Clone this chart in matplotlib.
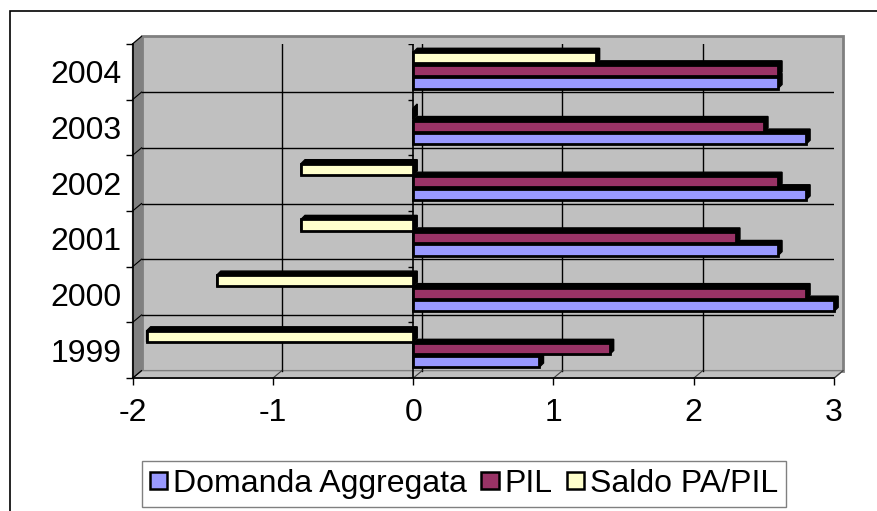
import numpy as np
import matplotlib.pyplot as plt
from matplotlib.patches import Polygon, Rectangle, Patch

plt.rcParams['font.family'] = ['Liberation Sans', 'DejaVu Sans']

# dati
anni = ['1999', '2000', '2001', '2002', '2003', '2004']
domanda = [0.9, 3.0, 2.6, 2.8, 2.8, 2.6]
pil = [1.4, 2.8, 2.3, 2.6, 2.5, 2.6]
saldo = [-1.9, -1.4, -0.8, -0.8, 0.0, 1.3]
serie = ['Domanda Aggregata', 'PIL', 'Saldo PA/PIL']
colori = ['#9999FF', '#993366', '#FFFFCC']
xticks = [-2, -1, 0, 1, 2, 3]

fig = plt.figure(figsize=(8.78, 5.11), dpi=100)
ax = fig.add_axes([0.151, 0.260, 0.799, 0.654])
ax.set_xlim(-2, 3)
ax.set_ylim(-0.5, 5.5)
ax.set_facecolor('none')

# profondita' dell'effetto 3D (unita' dati)
dx, dy = 0.064, 0.135      # parete di fondo
bdx, bdy = 0.029, 0.072    # barre
pos = np.arange(len(anni))
bordi = np.arange(-0.5, len(anni), 1)

# parete di fondo, parete laterale e pavimento
ax.add_patch(Rectangle((-2 + dx, -0.5 + dy), 5, 6, fc='#C0C0C0', ec='#808080',
                       lw=2, zorder=0, clip_on=False))
ax.add_patch(Polygon([(-2, -0.5), (-2, 5.5), (-2 + dx, 5.5 + dy), (-2 + dx, -0.5 + dy)],
                     closed=True, fc='#808080', ec='#808080', lw=1, zorder=0.5, clip_on=False))
ax.add_patch(Polygon([(-2, -0.5), (3, -0.5), (3 + dx, -0.5 + dy), (-2 + dx, -0.5 + dy)],
                     closed=True, fc='#C0C0C0', ec='#808080', lw=1, zorder=0.5, clip_on=False))

# griglia sulla parete di fondo
for x in xticks[1:-1]:
    ax.plot([x + dx, x + dx], [-0.5 + dy, 5.5 + dy], color='black', lw=1, zorder=1)
for b in bordi[1:-1]:
    ax.plot([-2 + dx, 3 + dx], [b + dy, b + dy], color='black', lw=1, zorder=1)
for x in xticks:
    ax.plot([x, x + dx], [-0.5, -0.5 + dy], color='#404040', lw=0.8, zorder=1, clip_on=False)
for b in bordi:
    ax.plot([-2, -2 + dx], [b, b + dy], color='black', lw=0.8, zorder=1, clip_on=False)

# asse delle categorie sullo zero
ax.plot([0, 0], [-0.5, 5.5], color='black', lw=1.2, zorder=1.5)
ax.hlines(bordi, -0.036, 0, color='black', lw=1, zorder=1.5)

# barre con estrusione
offs = [-0.2, 0.025, 0.25]
h = 0.2
for i, (vals, col, off) in enumerate(zip([domanda, pil, saldo], colori, offs)):
    for c, v in zip(pos + off, vals):
        x0, x1 = min(0, v), max(0, v)
        y0, y1 = c - h / 2, c + h / 2
        ax.add_patch(Polygon([(x0, y0), (x1, y0), (x1 + bdx, y0 + bdy), (x1 + bdx, y1 + bdy),
                              (x0 + bdx, y1 + bdy), (x0, y1)], closed=True, fc='black',
                             ec='black', lw=1, zorder=3 + 2 * i, clip_on=False))
    ax.barh(pos + off, vals, height=h, color=col, edgecolor='black', lw=2,
            zorder=4 + 2 * i, clip_on=False)

# assi
for s in ['top', 'right']:
    ax.spines[s].set_visible(False)
ax.spines['left'].set_linewidth(1.2)
ax.spines['bottom'].set_linewidth(1.2)
ax.spines['left'].set_zorder(2)
ax.spines['bottom'].set_zorder(2)
ax.set_xticks(xticks)
ax.set_xticklabels([str(x) for x in xticks])
ax.set_yticks(pos)
ax.set_yticklabels(anni)
ax.set_yticks(bordi, minor=True)
ax.tick_params(axis='x', length=5, width=1, pad=9, labelsize=23)
ax.tick_params(axis='y', which='major', length=0, pad=8, labelsize=23)
ax.tick_params(axis='y', which='minor', length=5, width=1, direction='out')

# legenda
handles = [Patch(fc=c, ec='black', lw=1.8, label=s) for s, c in zip(serie, colori)]
leg = fig.legend(handles=handles, loc='center', bbox_to_anchor=(464 / 878, 1 - 484 / 511),
                 ncol=3, fontsize=23, frameon=True, fancybox=False, edgecolor='#808080',
                 handlelength=0.55, handleheight=0.45, handletextpad=0.18,
                 columnspacing=0.45, borderpad=0.25, borderaxespad=0, framealpha=1)
leg.get_frame().set_linewidth(1)

# cornice esterna
fig.patches.append(Rectangle((10 / 878, -0.1), 1.0, 1.1 - 11 / 511, transform=fig.transFigure,
                             fill=False, ec='black', lw=1.2))

fig.savefig('out.png', dpi=100)
